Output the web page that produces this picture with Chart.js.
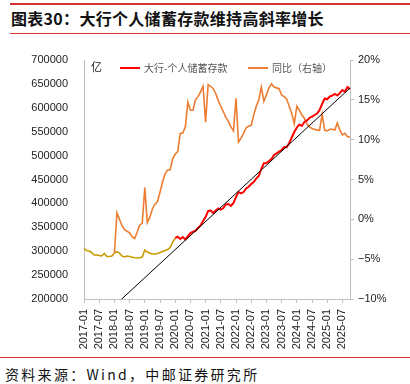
<!DOCTYPE html>
<html>
<head>
<meta charset="utf-8">
<script src="https://cdn.jsdelivr.net/npm/chart.js@4.4.1/dist/chart.umd.min.js"></script>
<style>
  body { margin: 0; width: 410px; height: 384px; background: #fff; position: relative; overflow: hidden; }
  .rule { position: absolute; background: #d7322f; }
  #title { position: absolute; left: 11px; top: 8px; font: bold 16px "Noto Sans CJK SC", sans-serif; color: #111; line-height: 20px; letter-spacing: 0.3px; white-space: nowrap; }
  #source { position: absolute; left: 5px; top: 365px; font: 14px "Noto Sans CJK SC", sans-serif; color: #111; letter-spacing: 2.3px; line-height: 18px; white-space: nowrap; }
  #wrap { position: absolute; left: 0; top: 40px; width: 410px; height: 315px; }
</style>
</head>
<body>
<div class="rule" style="left:10px;right:0;top:3px;height:2px"></div>
<div id="title">图表30：大行个人储蓄存款维持高斜率增长</div>
<div class="rule" style="left:10px;right:0;top:33px;height:1px"></div>
<div id="wrap"><canvas id="lineChart"></canvas></div>
<div class="rule" style="left:0;right:0;top:357px;height:1px"></div>
<div id="source">资料来源：Wind，中邮证券研究所</div>

<script>
// months 2017-01 .. 2025-10
const months = [];
for (let y = 2017; y <= 2025; y++) {
    for (let m = 1; m <= 12; m++) {
        if (y === 2025 && m > 10) break;
        months.push(y + '-' + String(m).padStart(2, '0'));
    }
}

// 2017-01 .. 2020-01 (earlier segment, left axis)
const earlyDeposits = [
    306100, 301500, 300400, 297300, 292000, 292000, 291000, 290000, 295200, 288900, 288900, 290000,
    296200, 299000, 296200, 290000, 287900, 290000, 288900, 287200, 286400, 285800, 286400, 287900,
    302500, 298300, 295600, 294100, 294100, 295200, 297300, 299400, 301500, 303600, 307700, 319200,
    327000
];

// 大行-个人储蓄存款, 2020-01 .. 2025-10 (亿)
const deposits = [
    327600, 330300, 325500, 329700, 324500, 331800, 338100, 340800, 342300, 348500, 353800, 363200,
    371500, 384100, 385100, 379900, 385100, 389300, 387200, 390400, 397700, 398700, 394600, 400800,
    413400, 423800, 421100, 423800, 431200, 434900, 440600, 444800, 452100, 457300, 472000, 484000,
    484500, 488700, 492900, 501200, 504800, 508200, 511700, 518000, 517400, 526400, 537900, 549400,
    558800, 565100, 561900, 570300, 573400, 578700, 581400, 584900, 588100, 595400, 607900, 619400,
    617800, 623600, 625700, 628900, 625700, 631000, 637200, 634100, 643500, 639300
];

// 同比（右轴）, 2018-01 .. 2025-10 (%)
const yoy = [
    -4.2, 0.8, 0.0, -0.8, -1.3, -1.5, -1.7, -2.2, -2.4, -1.6, -0.7, -0.5,
    4.0, -0.4, 0.3, 1.3, 1.9, 2.2, 3.4, 4.7, 5.7, 6.2, 6.2, 7.6,
    8.2, 8.5, 10.8, 10.8, 11.6, 14.7, 13.7, 13.7, 15.0, 15.4, 16.0, 16.7,
    12.2, 16.9, 16.7, 16.4, 15.8, 14.9, 14.2, 13.5, 12.8, 12.3, 11.6, 11.1,
    15.2, 9.7, 10.2, 10.8, 11.5, 11.7, 11.8, 13.1, 14.2, 15.0, 16.6, 14.8,
    15.6, 16.5, 17.0, 16.6, 16.5, 16.4, 15.6, 15.4, 15.1, 14.2, 13.3, 12.0,
    14.2, 13.7, 13.1, 12.7, 12.0, 11.6, 11.4, 11.3, 11.2, 11.2, 13.2, 11.2,
    11.1, 11.3, 11.3, 11.2, 12.1, 11.2, 10.6, 10.8, 10.4, 10.3
];

// black trend line, values at first and last month
const trendStart = 127000;
const trendEnd = 641400;

const leftTicks = { min: 200000, max: 700000, step: 50000 };
const rightTicks = { min: -10, max: 20, step: 5 };

function pad(values, start) {
    const out = new Array(months.length).fill(null);
    values.forEach((v, i) => { out[start + i] = v; });
    return out;
}

const trend = new Array(months.length).fill(null);
trend[0] = trendStart;
trend[months.length - 1] = trendEnd;

const axisGray = '#bfbfbf';
const tickFont = { family: '"Liberation Sans", Arial, sans-serif', size: 11 };

// legend and unit drawn inside the plot
const innerLegend = {
    id: 'innerLegend',
    afterDraw(chart) {
        const { ctx, chartArea: a } = chart;
        ctx.save();
        ctx.font = '11px "Noto Sans CJK SC", sans-serif';
        ctx.fillStyle = '#222';
        ctx.textBaseline = 'middle';
        ctx.fillText('亿', a.left + 7, a.top + 7);
        ctx.font = '10px "Noto Sans CJK SC", sans-serif';
        ctx.fillStyle = '#555';
        const y = a.top + 8;
        ctx.lineWidth = 2;
        ctx.strokeStyle = '#ff0000';
        ctx.beginPath(); ctx.moveTo(a.left + 36, y); ctx.lineTo(a.left + 56, y); ctx.stroke();
        ctx.fillText('大行-个人储蓄存款', a.left + 60, y);
        ctx.strokeStyle = '#ed7d31';
        ctx.beginPath(); ctx.moveTo(a.left + 164, y); ctx.lineTo(a.left + 184, y); ctx.stroke();
        ctx.fillText('同比（右轴）', a.left + 188, y);
        ctx.restore();
    }
};

new Chart(document.getElementById('lineChart'), {
    type: 'line',
    data: {
        labels: months,
        datasets: [
            {
                label: 'trend',
                data: trend,
                borderColor: '#000',
                borderWidth: 1,
                spanGaps: true,
                pointRadius: 0,
                yAxisID: 'y',
                order: 0
            },
            {
                label: '大行-个人储蓄存款',
                data: pad(deposits, 36),
                borderColor: '#ff0000',
                borderWidth: 2,
                pointRadius: 0,
                yAxisID: 'y',
                order: 1
            },
            {
                label: '同比（右轴）',
                data: pad(yoy, 12),
                borderColor: '#ed7d31',
                borderWidth: 1.6,
                pointRadius: 0,
                yAxisID: 'y1',
                order: 2
            },
            {
                label: 'early',
                data: pad(earlyDeposits, 0),
                borderColor: '#c89b00',
                borderWidth: 1.6,
                pointRadius: 0,
                yAxisID: 'y',
                order: 3
            }
        ]
    },
    options: {
        responsive: true,
        maintainAspectRatio: false,
        animation: false,
        layout: { padding: { top: 20, left: 0, right: 0, bottom: 0 } },
        plugins: { legend: { display: false }, tooltip: { enabled: false } },
        scales: {
            x: {
                offset: false,
                border: { color: axisGray, width: 1 },
                grid: {
                    drawOnChartArea: false,
                    tickLength: 4,
                    tickColor: c => (c.index % 6 === 0 ? axisGray : 'rgba(0,0,0,0)')
                },
                ticks: {
                    autoSkip: false,
                    minRotation: 90,
                    maxRotation: 90,
                    padding: 6,
                    color: '#222',
                    font: tickFont,
                    callback: (v, i) => (i % 6 === 0 ? months[i] : '')
                },
                afterFit: s => { s.height = 56; }
            },
            y: {
                position: 'left',
                min: leftTicks.min,
                max: leftTicks.max,
                border: { color: axisGray, width: 1 },
                grid: { display: false },
                ticks: {
                    stepSize: leftTicks.step,
                    padding: 8,
                    color: '#222',
                    font: tickFont,
                    callback: v => String(v)
                },
                afterFit: s => { s.width = 84; }
            },
            y1: {
                position: 'right',
                min: rightTicks.min,
                max: rightTicks.max,
                border: { color: axisGray, width: 1 },
                grid: { drawOnChartArea: false, tickLength: 4, tickColor: axisGray },
                ticks: {
                    stepSize: rightTicks.step,
                    padding: 4,
                    color: '#222',
                    font: tickFont,
                    callback: v => (v < 0 ? '\u2212' + Math.abs(v) : v) + '%'
                },
                afterFit: s => { s.width = 60; }
            }
        }
    },
    plugins: [innerLegend]
});
</script>
</body>
</html>
